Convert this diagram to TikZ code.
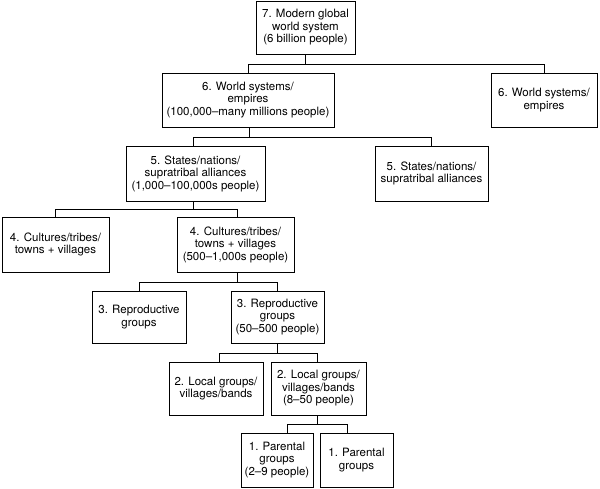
\documentclass[tikz,border=0pt]{standalone}
\usepackage{fontspec}
\setmainfont{TeX Gyre Heros}
\usetikzlibrary{positioning}

\begin{document}
\begin{tikzpicture}[x = 1pt, y = -1pt,
	box/.style = {draw, line width = 0.8pt, align = center, inner sep = 0pt,
		font = \fontsize{11.5}{12.5}\selectfont},
	link/.style = {line width = 0.8pt}]
	\useasboundingbox (0,0) rectangle (600,488);
	
	% level 7
	\node[box, minimum width = 99pt, minimum height = 53pt] (b7) at (305.5, 27.5)
	{7. Modern global\\world system\\(6 billion people)};
	
	% level 6
	\node[box, minimum width = 172pt, minimum height = 54pt] (b6a) at (248, 100)
	{6. World systems/\\empires\\(100,000--many millions people)};
	\node[box, minimum width = 106pt, minimum height = 54pt] (b6b) at (544, 100)
	{6. World systems/\\empires};
	
	% level 5
	\node[box, minimum width = 139pt, minimum height = 55pt] (b5a) at (195.5, 173.5)
	{5. States/nations/\\supratribal alliances\\(1,000--100,000s people)};
	\node[box, minimum width = 113pt, minimum height = 55pt] (b5b) at (431.5, 173.5)
	{5. States/nations/\\supratribal alliances};
	
	% level 4
	\node[box, minimum width = 107pt, minimum height = 55pt] (b4a) at (55.5, 244.5)
	{4. Cultures/tribes/\\towns + villages};
	\node[box, minimum width = 117pt, minimum height = 55pt] (b4b) at (235.5, 244.5)
	{4. Cultures/tribes/\\towns + villages\\(500--1,000s people)};
	
	% level 3
	\node[box, minimum width = 94pt, minimum height = 52pt] (b3a) at (139, 317)
	{3. Reproductive\\groups};
	\node[box, minimum width = 93pt, minimum height = 52pt] (b3b) at (277.5, 317)
	{3. Reproductive\\groups\\(50--500 people)};
	
	% level 2
	\node[box, minimum width = 94pt, minimum height = 53pt] (b2a) at (216, 388.5)
	{2. Local groups/\\villages/bands};
	\node[box, minimum width = 95pt, minimum height = 53pt] (b2b) at (318.5, 388.5)
	{2. Local groups/\\villages/bands\\(8--50 people)};
	
	% level 1
	\node[box, minimum width = 72pt, minimum height = 54pt] (b1a) at (277, 460)
	{1. Parental\\groups\\(2--9 people)};
	\node[box, minimum width = 73pt, minimum height = 54pt] (b1b) at (356.5, 460)
	{1. Parental\\groups};
	
	% connectors
	\draw[link] (b7.south) -- ++(0, 9.5) coordinate (j7);
	\draw[link] (b6a.north) |- (j7) -| (b6b.north);
	
	\draw[link] ([xshift = 1pt]b6a.south) -- ++(0, 9.5) coordinate (j6);
	\draw[link] ([xshift = -2.5pt]b5a.north) |- (j6) -| (b5b.north);
	
	\draw[link] ([xshift = -2.5pt]b5a.south) -- ++(0, 8) coordinate (j5);
	\draw[link] (b4a.north) |- (j5) -| ([xshift = 1.5pt]b4b.north);
	
	\draw[link] ([xshift = 1.5pt]b4b.south) -- ++(0, 10) coordinate (j4);
	\draw[link] (b3a.north) |- (j4) -| (b3b.north);
	
	\draw[link] (b3b.south) -- ++(0, 10) coordinate (j3);
	\draw[link] ([xshift = 3pt]b2a.north) |- (j3) -| ([xshift = -1.5pt]b2b.north);
	
	\draw[link] ([xshift = -1.5pt]b2b.south) -- ++(0, 9) coordinate (j2);
	\draw[link] ([xshift = 10pt]b1a.north) |- (j2) -| ([xshift = -9.5pt]b1b.north);
\end{tikzpicture}
\end{document}
